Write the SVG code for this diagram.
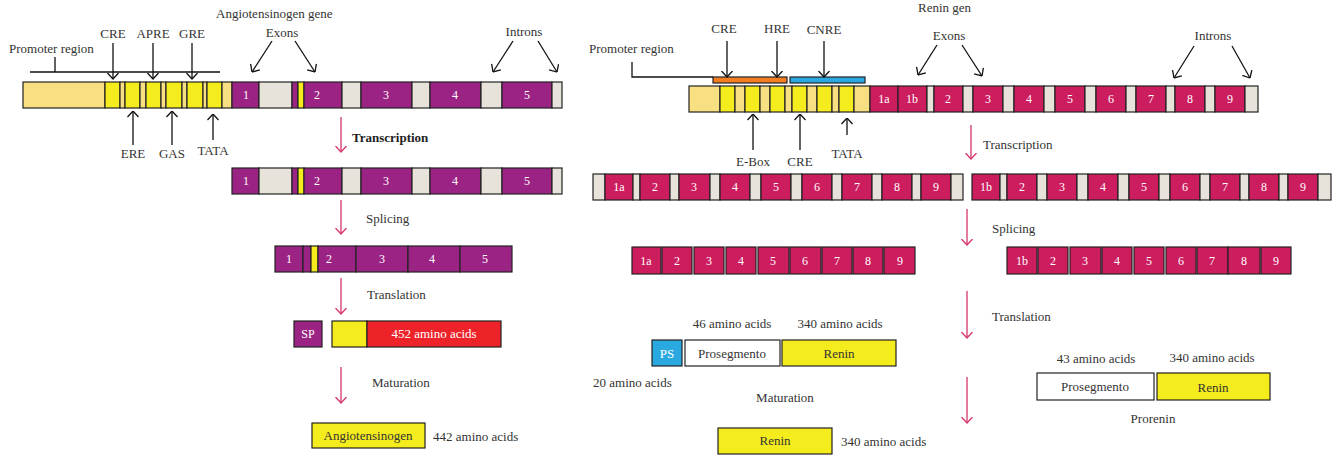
<svg xmlns="http://www.w3.org/2000/svg" width="1335" height="456" viewBox="0 0 1335 456">
<style>
text{font-family:"Liberation Serif","Times New Roman",serif;font-size:13px;fill:#333}
.c{text-anchor:middle}
.w{fill:#fff;font-size:12px;text-anchor:middle}
.d{fill:#333;text-anchor:middle}
rect{stroke:#222;stroke-width:1.2}
.L{fill:#F8E082}.Y{fill:#F5EC1E}.P{fill:#9B2383}.G{fill:#E8E3DA}.M{fill:#CC1D5E}
.R{fill:#EE2229}.B{fill:#29A9E0}.O{fill:#F37D21}.W{fill:#fff}
.k{stroke:#111;stroke-width:1.3;fill:none}
.pk{stroke:#D6336C;stroke-width:1.3;fill:none}
</style>
<defs>
<marker id="ak" viewBox="0 0 7 12" refX="6.5" refY="6" markerWidth="7" markerHeight="12" orient="auto" markerUnits="userSpaceOnUse"><path d="M0.5,0.5 L6.5,6 L0.5,11.5" fill="none" stroke="#111" stroke-width="1.3"/></marker>
<marker id="ap" viewBox="0 0 7 12" refX="6.5" refY="6" markerWidth="7" markerHeight="12" orient="auto" markerUnits="userSpaceOnUse"><path d="M0.5,0.5 L6.5,6 L0.5,11.5" fill="none" stroke="#D6336C" stroke-width="1.3"/></marker>
</defs>

<g id="agt-gene">
<rect class="L" x="23" y="82" width="82" height="26"/>
<rect class="Y" x="105" y="82" width="15" height="26"/><rect class="L" x="120" y="82" width="5" height="26"/>
<rect class="Y" x="125" y="82" width="15" height="26"/><rect class="L" x="140" y="82" width="6" height="26"/>
<rect class="Y" x="146" y="82" width="15" height="26"/><rect class="L" x="161" y="82" width="5" height="26"/>
<rect class="Y" x="166" y="82" width="16" height="26"/><rect class="L" x="182" y="82" width="5" height="26"/>
<rect class="Y" x="187" y="82" width="16" height="26"/><rect class="L" x="203" y="82" width="4" height="26"/>
<rect class="Y" x="207" y="82" width="15" height="26"/><rect class="L" x="222" y="82" width="10" height="26"/>
<rect class="P" x="232" y="82" width="27" height="26"/><rect class="G" x="259" y="82" width="33" height="26"/>
<rect class="P" x="292" y="82" width="6" height="26"/><rect class="Y" x="298" y="82" width="6" height="26"/>
<rect class="P" x="304" y="82" width="38" height="26"/><rect class="G" x="342" y="82" width="19" height="26"/>
<rect class="P" x="361" y="82" width="51" height="26"/><rect class="G" x="412" y="82" width="18" height="26"/>
<rect class="P" x="430" y="82" width="51" height="26"/><rect class="G" x="481" y="82" width="21" height="26"/>
<rect class="P" x="502" y="82" width="50" height="26"/><rect class="G" x="552" y="82" width="10" height="26"/>
<text class="w" x="246" y="99">1</text><text class="w" x="317" y="99">2</text><text class="w" x="386" y="99">3</text><text class="w" x="455" y="99">4</text><text class="w" x="527" y="99">5</text>
</g>

<g id="agt-rna">
<rect class="P" x="232" y="168" width="27" height="26"/><rect class="G" x="259" y="168" width="33" height="26"/>
<rect class="P" x="292" y="168" width="6" height="26"/><rect class="Y" x="298" y="168" width="6" height="26"/>
<rect class="P" x="304" y="168" width="38" height="26"/><rect class="G" x="342" y="168" width="19" height="26"/>
<rect class="P" x="361" y="168" width="51" height="26"/><rect class="G" x="412" y="168" width="18" height="26"/>
<rect class="P" x="430" y="168" width="51" height="26"/><rect class="G" x="481" y="168" width="21" height="26"/>
<rect class="P" x="502" y="168" width="50" height="26"/><rect class="G" x="552" y="168" width="10" height="26"/>
<text class="w" x="246" y="185">1</text><text class="w" x="317" y="185">2</text><text class="w" x="386" y="185">3</text><text class="w" x="455" y="185">4</text><text class="w" x="527" y="185">5</text>
</g>

<g id="agt-mrna">
<rect class="P" x="275" y="246" width="28" height="26"/><rect class="P" x="303" y="246" width="8" height="26"/>
<rect class="Y" x="311" y="246" width="7" height="26"/><rect class="P" x="318" y="246" width="38" height="26"/>
<rect class="P" x="356" y="246" width="52" height="26"/><rect class="P" x="408" y="246" width="52" height="26"/>
<rect class="P" x="460" y="246" width="52" height="26"/>
<text class="w" x="289" y="263">1</text><text class="w" x="329" y="263">2</text><text class="w" x="382" y="263">3</text><text class="w" x="432" y="263">4</text><text class="w" x="485" y="263">5</text>
</g>

<g id="agt-protein">
<rect class="P" x="294" y="321" width="28" height="26"/>
<text class="w" x="308" y="338">SP</text>
<rect class="Y" x="332" y="321" width="35" height="26"/>
<rect class="R" x="367" y="321" width="134" height="26"/>
<text class="w" x="434" y="338" style="font-size:13px">452 amino acids</text>
</g>

<g id="agt-mature">
<rect class="Y" x="312" y="423" width="113" height="25"/>
<text class="d" x="368" y="440">Angiotensinogen</text>
<text x="433" y="441">442 amino acids</text>
</g>

<g id="agt-labels">
<text x="9" y="53">Promoter region</text>
<text class="c" x="113" y="38">CRE</text><text class="c" x="153" y="38">APRE</text><text class="c" x="192" y="38">GRE</text>
<text class="c" x="133" y="158">ERE</text><text class="c" x="172" y="158">GAS</text><text class="c" x="213" y="155">TATA</text>
<text x="216" y="18">Angiotensinogen gene</text>
<text class="c" x="282" y="37">Exons</text><text class="c" x="524" y="36">Introns</text>
<text x="352" y="142" style="font-weight:bold;fill:#222">Transcription</text>
<text x="366" y="223">Splicing</text>
<text x="367" y="299">Translation</text>
<text x="372" y="387">Maturation</text>
</g>

<g id="renin-gene">
<rect class="O" x="713" y="77" width="74" height="6"/><rect class="B" x="790" y="77" width="75" height="6"/>
<rect class="L" x="689" y="86" width="31" height="26"/>
<rect class="Y" x="720" y="86" width="15" height="26"/><rect class="L" x="735" y="86" width="10" height="26"/>
<rect class="Y" x="745" y="86" width="15" height="26"/><rect class="L" x="760" y="86" width="10" height="26"/>
<rect class="Y" x="770" y="86" width="15" height="26"/><rect class="L" x="785" y="86" width="7" height="26"/>
<rect class="Y" x="792" y="86" width="15" height="26"/><rect class="L" x="807" y="86" width="10" height="26"/>
<rect class="Y" x="817" y="86" width="15" height="26"/><rect class="L" x="832" y="86" width="7" height="26"/>
<rect class="Y" x="839" y="86" width="15" height="26"/><rect class="L" x="854" y="86" width="16" height="26"/>
<rect class="M" x="870" y="86" width="28" height="26"/><rect class="M" x="898" y="86" width="29" height="26"/>
<rect class="G" x="927" y="86" width="7" height="26"/><rect class="M" x="934" y="86" width="29" height="26"/>
<rect class="G" x="963" y="86" width="10" height="26"/><rect class="M" x="973" y="86" width="30" height="26"/>
<rect class="G" x="1003" y="86" width="11" height="26"/><rect class="M" x="1014" y="86" width="30" height="26"/>
<rect class="G" x="1044" y="86" width="11" height="26"/><rect class="M" x="1055" y="86" width="30" height="26"/>
<rect class="G" x="1085" y="86" width="11" height="26"/><rect class="M" x="1096" y="86" width="30" height="26"/>
<rect class="G" x="1126" y="86" width="10" height="26"/><rect class="M" x="1136" y="86" width="30" height="26"/>
<rect class="G" x="1166" y="86" width="9" height="26"/><rect class="M" x="1175" y="86" width="30" height="26"/>
<rect class="G" x="1205" y="86" width="10" height="26"/><rect class="M" x="1215" y="86" width="30" height="26"/>
<rect class="G" x="1245" y="86" width="13" height="26"/>
<text class="w" x="884" y="103">1a</text><text class="w" x="912" y="103">1b</text><text class="w" x="948" y="103">2</text><text class="w" x="988" y="103">3</text><text class="w" x="1029" y="103">4</text><text class="w" x="1070" y="103">5</text><text class="w" x="1111" y="103">6</text><text class="w" x="1151" y="103">7</text><text class="w" x="1190" y="103">8</text><text class="w" x="1230" y="103">9</text>
</g>

<g id="renin-rna-a">
<rect class="G" x="593" y="174" width="12" height="26"/><rect class="M" x="605" y="174" width="28" height="26"/>
<rect class="G" x="633" y="174" width="7" height="26"/><rect class="M" x="640" y="174" width="30" height="26"/>
<rect class="G" x="670" y="174" width="9" height="26"/><rect class="M" x="679" y="174" width="31" height="26"/>
<rect class="G" x="710" y="174" width="10" height="26"/><rect class="M" x="720" y="174" width="30" height="26"/>
<rect class="G" x="750" y="174" width="11" height="26"/><rect class="M" x="761" y="174" width="30" height="26"/>
<rect class="G" x="791" y="174" width="11" height="26"/><rect class="M" x="802" y="174" width="30" height="26"/>
<rect class="G" x="832" y="174" width="10" height="26"/><rect class="M" x="842" y="174" width="30" height="26"/>
<rect class="G" x="872" y="174" width="10" height="26"/><rect class="M" x="882" y="174" width="30" height="26"/>
<rect class="G" x="912" y="174" width="9" height="26"/><rect class="M" x="921" y="174" width="30" height="26"/>
<rect class="G" x="951" y="174" width="12" height="26"/>
<text class="w" x="619" y="191">1a</text><text class="w" x="655" y="191">2</text><text class="w" x="694" y="191">3</text><text class="w" x="735" y="191">4</text><text class="w" x="776" y="191">5</text><text class="w" x="817" y="191">6</text><text class="w" x="857" y="191">7</text><text class="w" x="897" y="191">8</text><text class="w" x="936" y="191">9</text>
</g>

<g id="renin-rna-b">
<rect class="M" x="972" y="174" width="28" height="26"/><rect class="G" x="1000" y="174" width="7" height="26"/>
<rect class="M" x="1007" y="174" width="30" height="26"/><rect class="G" x="1037" y="174" width="10" height="26"/>
<rect class="M" x="1047" y="174" width="30" height="26"/><rect class="G" x="1077" y="174" width="11" height="26"/>
<rect class="M" x="1088" y="174" width="30" height="26"/><rect class="G" x="1118" y="174" width="11" height="26"/>
<rect class="M" x="1129" y="174" width="30" height="26"/><rect class="G" x="1159" y="174" width="11" height="26"/>
<rect class="M" x="1170" y="174" width="30" height="26"/><rect class="G" x="1200" y="174" width="10" height="26"/>
<rect class="M" x="1210" y="174" width="30" height="26"/><rect class="G" x="1240" y="174" width="9" height="26"/>
<rect class="M" x="1249" y="174" width="30" height="26"/><rect class="G" x="1279" y="174" width="9" height="26"/>
<rect class="M" x="1288" y="174" width="30" height="26"/><rect class="G" x="1318" y="174" width="13" height="26"/>
<text class="w" x="986" y="191">1b</text><text class="w" x="1022" y="191">2</text><text class="w" x="1062" y="191">3</text><text class="w" x="1103" y="191">4</text><text class="w" x="1144" y="191">5</text><text class="w" x="1185" y="191">6</text><text class="w" x="1225" y="191">7</text><text class="w" x="1264" y="191">8</text><text class="w" x="1303" y="191">9</text>
</g>

<g id="renin-mrna-a">
<rect class="M" x="632" y="247" width="29" height="27"/><rect class="M" x="662" y="247" width="30" height="27"/>
<rect class="M" x="694" y="247" width="30" height="27"/><rect class="M" x="726" y="247" width="30" height="27"/>
<rect class="M" x="758" y="247" width="31" height="27"/><rect class="M" x="790" y="247" width="31" height="27"/>
<rect class="M" x="822" y="247" width="30" height="27"/><rect class="M" x="853" y="247" width="30" height="27"/>
<rect class="M" x="884" y="247" width="31" height="27"/>
<text class="w" x="646" y="265">1a</text><text class="w" x="677" y="265">2</text><text class="w" x="709" y="265">3</text><text class="w" x="741" y="265">4</text><text class="w" x="773" y="265">5</text><text class="w" x="805" y="265">6</text><text class="w" x="837" y="265">7</text><text class="w" x="868" y="265">8</text><text class="w" x="900" y="265">9</text>
</g>

<g id="renin-mrna-b">
<rect class="M" x="1007" y="247" width="30" height="27"/><rect class="M" x="1038" y="247" width="30" height="27"/>
<rect class="M" x="1070" y="247" width="31" height="27"/><rect class="M" x="1102" y="247" width="30" height="27"/>
<rect class="M" x="1134" y="247" width="30" height="27"/><rect class="M" x="1166" y="247" width="30" height="27"/>
<rect class="M" x="1197" y="247" width="31" height="27"/><rect class="M" x="1228" y="247" width="32" height="27"/>
<rect class="M" x="1261" y="247" width="30" height="27"/>
<text class="w" x="1022" y="265">1b</text><text class="w" x="1053" y="265">2</text><text class="w" x="1085" y="265">3</text><text class="w" x="1117" y="265">4</text><text class="w" x="1149" y="265">5</text><text class="w" x="1181" y="265">6</text><text class="w" x="1212" y="265">7</text><text class="w" x="1244" y="265">8</text><text class="w" x="1276" y="265">9</text>
</g>

<g id="preprorenin">
<rect class="B" x="652" y="340" width="30" height="26"/>
<text class="w" x="667" y="358" style="font-size:13px">PS</text>
<rect class="W" x="685" y="340" width="95" height="26"/>
<text class="d" x="732" y="358">Prosegmento</text>
<rect class="Y" x="782" y="340" width="114" height="26"/>
<text class="d" x="839" y="358">Renin</text>
</g>

<g id="renin-mature">
<rect class="Y" x="718" y="428" width="114" height="26"/>
<text class="d" x="775" y="445">Renin</text>
<text x="841" y="446">340 amino acids</text>
</g>

<g id="prorenin">
<rect class="W" x="1037" y="373" width="117" height="27"/>
<text class="d" x="1095" y="391">Prosegmento</text>
<rect class="Y" x="1157" y="373" width="113" height="27"/>
<text class="d" x="1213" y="392">Renin</text>
</g>

<g id="renin-labels">
<text x="918" y="12">Renin gen</text>
<text x="589" y="53">Promoter region</text>
<text class="c" x="724" y="33">CRE</text><text class="c" x="777" y="33">HRE</text><text class="c" x="824" y="34">CNRE</text>
<text class="c" x="949" y="40">Exons</text><text class="c" x="1213" y="40">Introns</text>
<text class="c" x="753" y="166">E-Box</text><text class="c" x="800" y="166">CRE</text><text class="c" x="847" y="158">TATA</text>
<text x="983" y="149">Transcription</text>
<text x="992" y="233">Splicing</text>
<text x="992" y="321">Translation</text>
<text class="c" x="732" y="328">46 amino acids</text><text class="c" x="840" y="328">340 amino acids</text>
<text x="593" y="387">20 amino acids</text>
<text class="c" x="785" y="402">Maturation</text>
<text class="c" x="1096" y="363">43 amino acids</text><text class="c" x="1212" y="362">340 amino acids</text>
<text class="c" x="1153" y="423">Prorenin</text>
</g>

<g id="connectors">
<path class="k" d="M30,72 H220 M55,57 V72"/>
<path class="k" d="M632,62 V77 H713"/>
<g marker-end="url(#ak)">
<path class="k" d="M113,43 V79"/><path class="k" d="M153,43 V79"/><path class="k" d="M192,43 V79"/>
<path class="k" d="M133,145 V111"/><path class="k" d="M172,145 V111"/><path class="k" d="M213,140 V114"/>
<path class="k" d="M272,41 L252,72"/><path class="k" d="M295,41 L315,72"/>
<path class="k" d="M513,41 L493,72"/><path class="k" d="M538,41 L557,72"/>
<path class="k" d="M727,41 V77"/><path class="k" d="M777,41 V77"/><path class="k" d="M824,41 V77"/>
<path class="k" d="M753,150 V114"/><path class="k" d="M800,150 V114"/><path class="k" d="M847,135 V118"/>
<path class="k" d="M937,45 L918,75"/><path class="k" d="M962,45 L982,76"/>
<path class="k" d="M1194,46 L1174,78"/><path class="k" d="M1232,46 L1250,78"/>
</g>
<g marker-end="url(#ap)">
<path class="pk" d="M341,117 V152"/><path class="pk" d="M341,200 V234"/>
<path class="pk" d="M341,278 V314"/><path class="pk" d="M341,367 V403"/>
<path class="pk" d="M971,125 V159"/><path class="pk" d="M967,209 V245"/>
<path class="pk" d="M967,291 V338"/><path class="pk" d="M967,377 V423"/>
</g>
</g>
</svg>
